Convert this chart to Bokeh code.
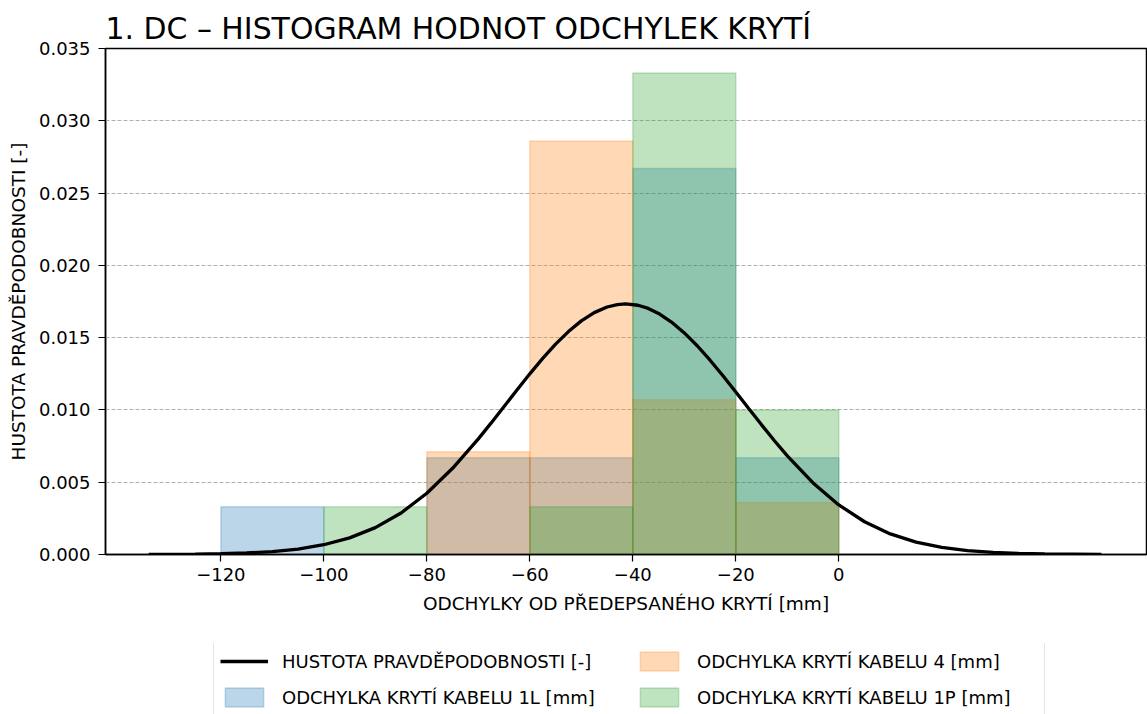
from bokeh.plotting import figure
from bokeh.layouts import column
from bokeh.models import (Range1d, Legend, LegendItem, FixedTicker, NumeralTickFormatter,
                          ColumnDataSource)
from bokeh.embed import file_html
from bokeh.resources import INLINE

# ---- data ----
title_text = "1. DC – HISTOGRAM HODNOT ODCHYLEK KRYTÍ"
x_label = "ODCHYLKY OD PŘEDEPSANÉHO KRYTÍ [mm]"
y_label = "HUSTOTA PRAVDĚPODOBNOSTI [-]"

bin_left = [-120, -100, -80, -60, -40, -20]
bin_right = [-100, -80, -60, -40, -20, 0]
dens_1L = [0.0033, 0.0, 0.0067, 0.0067, 0.0267, 0.0067]
dens_4 = [0.0, 0.0, 0.0071, 0.0286, 0.0107, 0.0036]
dens_1P = [0.0, 0.0033, 0.0, 0.0033, 0.0333, 0.0100]

curve_x = [-134, -125, -120, -115, -110, -105, -100, -95, -90, -85, -80, -75, -70,
           -67.5, -65, -62.5, -60, -57.5, -55, -52.5, -50, -47.5, -45, -43, -41.4,
           -39, -37, -35, -32.5, -30, -27.5, -25, -22.5, -20, -17.5, -15, -12.5,
           -10, -5, 0, 5, 10, 15, 20, 25, 30, 35, 40, 51]
curve_y = [0.0000052, 0.0000234, 0.0000504, 0.0001036, 0.000203, 0.000379, 0.000675,
           0.001148, 0.001858, 0.002873, 0.004239, 0.005962, 0.0080,
           0.009103, 0.010237, 0.011377, 0.012497, 0.013564, 0.01455, 0.01542, 0.01616,
           0.01673, 0.01712, 0.01729, 0.01733,
           0.01724, 0.01702, 0.01667, 0.01608, 0.015327, 0.014438, 0.013441, 0.012365,
           0.011242, 0.0101, 0.008968, 0.00787,
           0.006824, 0.004953, 0.00343, 0.002265, 0.001426, 0.000857, 0.000491,
           0.000269, 0.00014, 0.0000697, 0.000033, 0.0000054]

x_ticks = [-120, -100, -80, -60, -40, -20, 0]
x_tick_labels = ["−120", "−100", "−80", "−60", "−40", "−20", "0"]
y_ticks = [0.0, 0.005, 0.010, 0.015, 0.020, 0.025, 0.030, 0.035]

series = [
    ("ODCHYLKA KRYTÍ KABELU 1L [mm]", dens_1L, "#1f77b4"),
    ("ODCHYLKA KRYTÍ KABELU 4 [mm]", dens_4, "#ff7f0e"),
    ("ODCHYLKA KRYTÍ KABELU 1P [mm]", dens_1P, "#2ca02c"),
]
curve_label = "HUSTOTA PRAVDĚPODOBNOSTI [-]"

FONT = "DejaVu Sans"

# ---------------- main chart ----------------
p = figure(frame_width=1041, frame_height=506,
           output_backend="svg", toolbar_location=None,
           x_range=Range1d(-142.4, 59.75), y_range=Range1d(0, 0.035),
           min_border_left=105, min_border_right=1, min_border_top=48, min_border_bottom=89)
p.background_fill_color = "white"
p.border_fill_color = "white"
p.outline_line_color = "black"
p.outline_line_width = 1.5

p.title.text = title_text
p.title.text_font = FONT
p.title.text_font_size = "29.9px"
p.title.text_font_style = "normal"
p.title.text_color = "black"
p.title.align = "left"
p.title.standoff = 6

sources = {}
for name, dens, color in series:
    l = [a for a, d in zip(bin_left, dens) if d > 0]
    r = [b for b, d in zip(bin_right, dens) if d > 0]
    t = [d for d in dens if d > 0]
    sources[name] = ColumnDataSource(dict(left=l, right=r, top=t, bottom=[0] * len(t)))

bar_style = dict(fill_alpha=0.3, line_alpha=0.25, line_width=1.5)
for name, dens, color in series:
    p.quad(left="left", right="right", top="top", bottom="bottom", source=sources[name],
           fill_color=color, line_color=color, **bar_style)

p.line(curve_x, curve_y, line_color="black", line_width=3.3)

for ax in (p.xaxis[0], p.yaxis[0]):
    ax.axis_line_color = "black"
    ax.axis_line_width = 1.5
    ax.major_tick_line_color = "black"
    ax.major_tick_line_width = 1.2
    ax.major_tick_out = 7
    ax.major_tick_in = 0
    ax.minor_tick_line_color = None
    ax.major_label_text_font = FONT
    ax.major_label_text_font_size = "18px"
    ax.major_label_text_color = "black"
    ax.axis_label_text_font = FONT
    ax.axis_label_text_font_size = "18.5px"
    ax.axis_label_text_font_style = "normal"
    ax.axis_label_text_color = "black"

p.xaxis[0].ticker = FixedTicker(ticks=x_ticks)
p.xaxis[0].major_label_overrides = {t: s for t, s in zip(x_ticks, x_tick_labels)}
p.xaxis[0].axis_label = x_label
p.xaxis[0].major_label_standoff = 6
p.xaxis[0].axis_label_standoff = 9

p.yaxis[0].ticker = FixedTicker(ticks=y_ticks)
p.yaxis[0].formatter = NumeralTickFormatter(format="0.000")
p.yaxis[0].axis_label = y_label
p.yaxis[0].major_label_standoff = 8
p.yaxis[0].axis_label_standoff = 7

p.xgrid.grid_line_color = None
p.ygrid.grid_line_color = "#b0b0b0"
p.ygrid.grid_line_dash = "4 2"
p.ygrid.grid_line_width = 1

# ---------------- legend strip (same series, drawn out of view) ----------------
q = figure(frame_width=1147, frame_height=71, output_backend="svg", toolbar_location=None,
           x_range=Range1d(1000, 1001), y_range=Range1d(1000, 1001),
           x_axis_location=None, y_axis_location=None,
           min_border_left=0, min_border_right=0, min_border_top=0, min_border_bottom=0)
q.outline_line_color = None
q.grid.visible = False
q.background_fill_color = "white"
q.border_fill_color = "white"

leg_r = {}
for name, dens, color in series:
    leg_r[name] = q.quad(left="left", right="right", top="top", bottom="bottom",
                         source=sources[name], fill_color=color, line_color=color, **bar_style)
leg_curve = q.line(curve_x, curve_y, line_color="black", line_width=3.3)

items = [
    LegendItem(label=curve_label, renderers=[leg_curve]),
    LegendItem(label=series[1][0], renderers=[leg_r[series[1][0]]]),
    LegendItem(label=series[0][0], renderers=[leg_r[series[0][0]]]),
    LegendItem(label=series[2][0], renderers=[leg_r[series[2][0]]]),
]
legend = Legend(items=items, location=(213, -2), orientation="horizontal", ncols=2,
                padding=6, spacing=12, margin=0,
                glyph_width=48, glyph_height=24, label_height=24, label_width=341,
                label_standoff=14,
                label_text_font=FONT, label_text_font_size="18px", label_text_color="black",
                border_line_color="#cccccc", border_line_width=1,
                background_fill_color="white", background_fill_alpha=1.0)
q.add_layout(legend, "center")

layout = column(p, q, spacing=0)
open("out.html", "w").write(file_html(layout, INLINE))
